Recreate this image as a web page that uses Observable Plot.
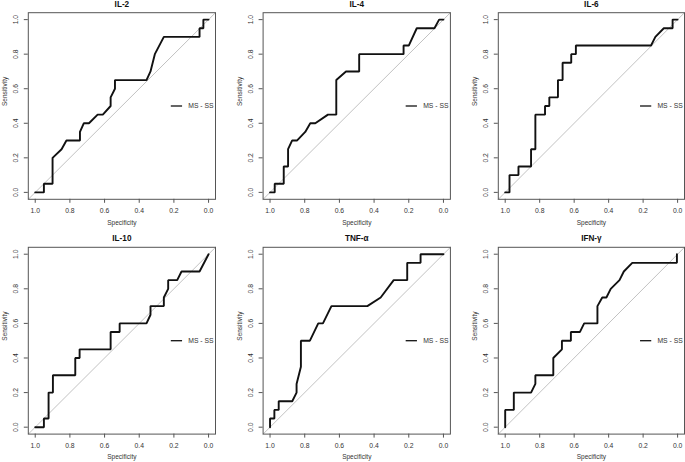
<!DOCTYPE html>
<html><head><meta charset="utf-8">
<script src="https://cdn.jsdelivr.net/npm/d3@7"></script>
<script src="https://cdn.jsdelivr.net/npm/@observablehq/plot@0.6"></script>
<style>
body{margin:0;background:#fff;}
#grid{position:relative;width:685px;height:462px;overflow:hidden;font-family:"Liberation Sans",Arial,sans-serif;background:#fff;}
#grid > div{position:absolute;}
</style></head><body><div id="grid"></div>
<script>
const panelTitles = ["IL-2", "IL-4", "IL-6", "IL-10", "TNF-α", "IFN-γ"];
const legendLabel = "MS - SS";
const xLabel = "Specificity";
const yLabel = "Sensitivity";
const tickValues = [0, 0.2, 0.4, 0.6, 0.8, 1.0];

const il2Spec = [1, 0.95, 0.95, 0.9, 0.9, 0.848, 0.82, 0.742, 0.742, 0.72, 0.69, 0.64, 0.61, 0.565, 0.565, 0.54, 0.54, 0.358, 0.335, 0.31, 0.258, 0.052, 0.052, 0.03, 0.03, 0];
const il2Sens = [0, 0, 0.05, 0.05, 0.2, 0.25, 0.3, 0.3, 0.35, 0.4, 0.4, 0.45, 0.45, 0.5, 0.55, 0.6, 0.65, 0.65, 0.7, 0.8, 0.9, 0.9, 0.95, 0.95, 1, 1];

const il4Spec = [1, 0.973, 0.973, 0.921, 0.921, 0.896, 0.896, 0.873, 0.845, 0.797, 0.768, 0.739, 0.666, 0.618, 0.618, 0.562, 0.486, 0.486, 0.23, 0.23, 0.2, 0.154, 0.052, 0.025, 0];
const il4Sens = [0, 0, 0.05, 0.05, 0.15, 0.15, 0.25, 0.3, 0.3, 0.35, 0.4, 0.4, 0.45, 0.45, 0.65, 0.7, 0.7, 0.8, 0.8, 0.85, 0.85, 0.95, 0.95, 1, 1];

const il6Spec = [1, 0.975, 0.975, 0.923, 0.923, 0.85, 0.85, 0.825, 0.825, 0.769, 0.769, 0.744, 0.744, 0.694, 0.694, 0.667, 0.667, 0.617, 0.617, 0.59, 0.59, 0.154, 0.129, 0.08, 0.029, 0.029, 0];
const il6Sens = [0, 0, 0.1, 0.1, 0.15, 0.15, 0.25, 0.25, 0.45, 0.45, 0.5, 0.5, 0.55, 0.55, 0.65, 0.65, 0.75, 0.75, 0.8, 0.8, 0.85, 0.85, 0.9, 0.95, 0.95, 1, 1];

const il10Spec = [1, 0.95, 0.95, 0.923, 0.923, 0.898, 0.898, 0.769, 0.769, 0.744, 0.744, 0.565, 0.565, 0.513, 0.513, 0.358, 0.335, 0.335, 0.258, 0.258, 0.233, 0.233, 0.181, 0.156, 0.052, 0];
const il10Sens = [0, 0, 0.05, 0.05, 0.2, 0.2, 0.3, 0.3, 0.4, 0.4, 0.45, 0.45, 0.55, 0.55, 0.6, 0.6, 0.65, 0.7, 0.7, 0.75, 0.8, 0.85, 0.85, 0.9, 0.9, 1];

const tnfSpec = [1, 1, 0.975, 0.975, 0.95, 0.95, 0.872, 0.847, 0.847, 0.822, 0.822, 0.77, 0.722, 0.695, 0.646, 0.439, 0.362, 0.287, 0.209, 0.209, 0.132, 0.132, 0];
const tnfSens = [0, 0.05, 0.05, 0.1, 0.1, 0.15, 0.15, 0.2, 0.25, 0.35, 0.5, 0.5, 0.6, 0.6, 0.7, 0.7, 0.75, 0.85, 0.85, 0.95, 0.95, 1, 1];

const ifnSpec = [1, 1, 0.95, 0.95, 0.85, 0.825, 0.825, 0.721, 0.721, 0.671, 0.671, 0.619, 0.619, 0.567, 0.542, 0.465, 0.465, 0.437, 0.413, 0.388, 0.337, 0.312, 0.263, 0.004, 0.004];
const ifnSens = [0, 0.1, 0.1, 0.2, 0.2, 0.25, 0.3, 0.3, 0.4, 0.45, 0.5, 0.5, 0.55, 0.55, 0.6, 0.6, 0.7, 0.75, 0.75, 0.8, 0.85, 0.9, 0.95, 0.95, 1];

const specSeries = [il2Spec, il4Spec, il6Spec, il10Spec, tnfSpec, ifnSpec];
const sensSeries = [il2Sens, il4Sens, il6Sens, il10Sens, tnfSens, ifnSens];

// layout
const xDomain = [1.04, -0.04];
const yDomain = [-0.04, 1.04];
const colLeft = [0, 228, 456];
const colWidth = [228, 228, 229];
const colMargins = [[27.8, 13], [34.6, 6.1], [41.8, 1]];
const rowTop = [0, 231];
const rowMargins = [[12.2, 32.2], [15.8, 28.4]];

const grid = document.getElementById("grid");
const font = '"Liberation Sans", Arial, sans-serif';

for (let i = 0; i < panelTitles.length; i++) {
  const r = Math.floor(i / 3), c = i % 3;
  const curve = specSeries[i].map((s, j) => ({spec: s, sens: sensSeries[i][j]}));
  const diag = xDomain.map(s => ({spec: s, sens: 1 - s}));
  const chart = Plot.plot({
    width: colWidth[c], height: 231,
    marginLeft: colMargins[c][0], marginRight: colMargins[c][1],
    marginTop: rowMargins[r][0], marginBottom: rowMargins[r][1],
    style: {fontFamily: font, fontSize: "6.8px", color: "#333", background: "white", overflow: "visible"},
    x: {domain: xDomain},
    y: {domain: yDomain},
    marks: [
      Plot.line(diag, {x: "spec", y: "sens", stroke: "#c2c2c2", strokeWidth: 1}),
      Plot.line(curve, {x: "spec", y: "sens", stroke: "#111", strokeWidth: 1.9, strokeLinejoin: "miter"}),
      Plot.frame({stroke: "#555"}),
      Plot.axisX({ticks: tickValues, tickFormat: d3.format(".1f"), tickSize: 4, tickPadding: 8, lineAnchor: "middle", label: null, stroke: "#555", fill: "#333"}),
      Plot.axisY({ticks: tickValues, tickFormat: d3.format(".1f"), tickSize: 4, tickPadding: 8, tickRotate: -90, textAnchor: "middle", lineAnchor: "middle", label: null, stroke: "#555", fill: "#333"}),
      Plot.text([panelTitles[i]], {frameAnchor: "top", dy: -8.6, text: d => d, fontWeight: "bold", fontSize: 8.2, lineAnchor: "middle", fill: "#111"}),
      Plot.text([xLabel], {frameAnchor: "bottom", dy: 23.2, text: d => d, lineAnchor: "middle", fill: "#333", fontSize: 6.5}),
      Plot.text([yLabel], {frameAnchor: "left", dx: -23.3, rotate: -90, text: d => d, lineAnchor: "middle", fill: "#333", fontSize: 6.5}),
      Plot.ruleY([0.5], {x1: () => 0.215, x2: () => 0.15, stroke: "#111", strokeWidth: 1.3}),
      Plot.text([legendLabel], {x: () => 0.117, y: () => 0.5, text: d => d, textAnchor: "start", lineAnchor: "middle", fill: "#333"})
    ]
  });
  const holder = document.createElement("div");
  holder.style.left = colLeft[c] + "px";
  holder.style.top = rowTop[r] + "px";
  holder.appendChild(chart);
  grid.appendChild(holder);
}
</script>
</body></html>
